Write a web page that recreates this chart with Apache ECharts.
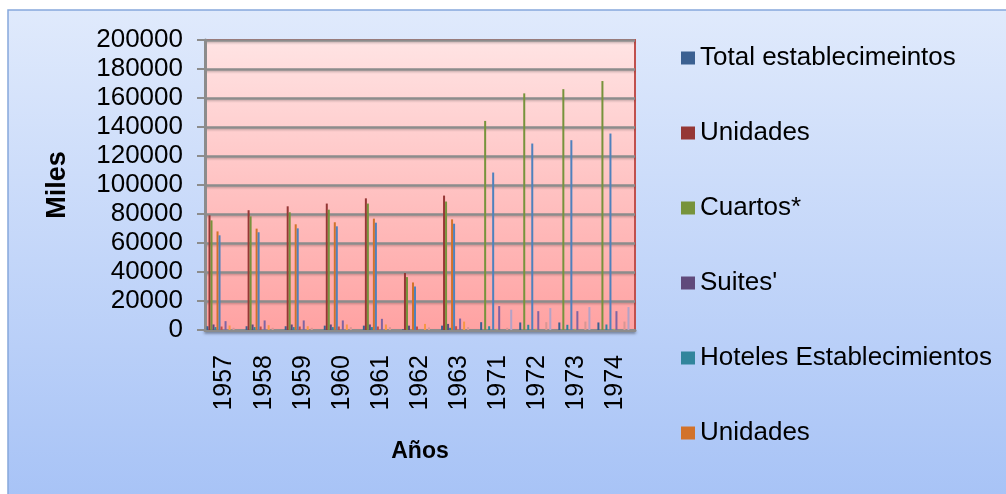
<!DOCTYPE html>
<html>
<head>
<meta charset="utf-8" />
<title></title>
<script src="https://cdn.jsdelivr.net/npm/echarts@6/dist/echarts.min.js"></script>
<style>
  html, body { margin: 0; padding: 0; background: #fff; }
  #chart { width: 1006px; height: 494px; }
</style>
</head>
<body>
<div id="chart"></div>
<script>
var years = ['1957', '1958', '1959', '1960', '1961', '1962', '1963', '1971', '1972', '1973', '1974'];
var yTicks = [0, 20000, 40000, 60000, 80000, 100000, 120000, 140000, 160000, 180000, 200000];

// only the first six series appear in the legend (as in the original, truncated)
var legendNames = ['Total establecimeintos', 'Unidades', 'Cuartos*', "Suites'", 'Hoteles Establecimientos', 'Unidades '];
var otherNames = ['Serie7', 'Serie8', 'Serie9', 'Serie10', 'Serie11', 'Serie12', 'Serie13', 'Serie14', 'Serie15', 'Serie16', 'Serie17', 'Serie18'];

var s1 = [2600, 2600, 2600, 3000, 3000, 500, 3000, 5400, 5200, 5200, 5200];
var s2 = [79100, 82600, 85300, 87200, 90800, 39300, 92700, 0, 0, 0, 0];
var s3 = [75600, 78400, 81200, 83000, 87200, 36500, 88600, 144200, 163200, 166100, 171700];
var s4 = [3800, 3800, 3800, 3800, 3800, 3000, 4200, 0, 0, 0, 0];
var s5 = [2000, 2000, 2000, 2000, 2000, 0, 1500, 2600, 3600, 3600, 3800];
var s6 = [68000, 69900, 72900, 74300, 76800, 32800, 76300, 0, 0, 0, 0];
var s7 = [65300, 67400, 70100, 71500, 74000, 30000, 73300, 108600, 128600, 130900, 135500];
var s8 = [2400, 2400, 2400, 2400, 2400, 2400, 2600, 0, 0, 0, 0];
var s9 = [0, 0, 0, 0, 0, 0, 0, 800, 800, 800, 800];
var s10 = [6100, 6600, 6600, 6600, 7700, 0, 7900, 16500, 13000, 13000, 13000];
var s11 = [0, 0, 0, 0, 0, 0, 0, 0, 0, 0, 0];
var s12 = [3100, 3300, 2600, 3800, 3800, 4200, 5800, 0, 0, 0, 0];
var s13 = [0, 0, 0, 0, 0, 0, 0, 0, 0, 0, 0];
var s14 = [1500, 1500, 1500, 2000, 2000, 1800, 2000, 1500, 5400, 5800, 5800];
var s15 = [0, 0, 0, 0, 0, 0, 0, 0, 0, 0, 0];
var s16 = [0, 0, 0, 0, 0, 0, 0, 14000, 15100, 15800, 15800];
var s17 = [0, 0, 0, 0, 0, 0, 0, 0, 0, 0, 0];
var s18 = [0, 0, 0, 0, 0, 0, 0, 0, 0, 0, 0];

var allData = [s1, s2, s3, s4, s5, s6, s7, s8, s9, s10, s11, s12, s13, s14, s15, s16, s17, s18];
var allNames = legendNames.concat(otherNames);
var colors = ['#3B6091', '#953735', '#77933C', '#604A7B', '#31859C', '#D2722A',
              '#4F81BD', '#C0504D', '#9BBB59', '#8064A2', '#4BACC6', '#F79646',
              '#95B3D7', '#D99694', '#C3D69B', '#B3A2C7', '#93CDDD', '#FAC090'];

var font = "'Liberation Sans', Arial, sans-serif";

var series = [];
for (var i = 0; i < allData.length; i++) {
  series.push({
    name: allNames[i],
    type: 'bar',
    data: allData[i],
    barGap: '0%',
    barCategoryGap: '7.7%',
    itemStyle: { color: colors[i] }
  });
}

var myChart = echarts.init(document.getElementById('chart'));
var option = {
  backgroundColor: '#ffffff',
  animation: false,
  color: colors,
  graphic: [{
    type: 'rect',
    z: -100,
    silent: true,
    shape: { x: 8, y: 10, width: 1010, height: 500 },
    style: {
      fill: new echarts.graphic.LinearGradient(0, 0, 0, 1, [
        { offset: 0, color: '#e0eafc' },
        { offset: 1, color: '#a6c2f6' }
      ]),
      stroke: '#86a8dc',
      lineWidth: 1.5
    }
  }],
  legend: {
    orient: 'vertical',
    left: 676,
    top: 38,
    data: legendNames,
    icon: 'rect',
    itemWidth: 14,
    itemHeight: 13,
    itemGap: 45,
    formatter: function (name) { return name.trim(); },
    textStyle: { fontFamily: font, fontSize: 26, color: '#000', lineHeight: 30 }
  },
  grid: {
    left: 205,
    top: 40,
    width: 430,
    height: 290,
    show: true,
    borderColor: '#c0504d',
    borderWidth: 2,
    backgroundColor: new echarts.graphic.LinearGradient(0, 0, 0, 1, [
      { offset: 0, color: '#ffe4e4' },
      { offset: 1, color: '#ffa2a2' }
    ])
  },
  xAxis: {
    type: 'category',
    data: years,
    name: 'Años',
    nameLocation: 'middle',
    nameGap: 110,
    nameTextStyle: { fontFamily: font, fontSize: 23, fontWeight: 'bold', color: '#000' },
    axisLine: { lineStyle: { color: '#8c8c8c', width: 3, shadowColor: 'rgba(0,0,0,0.25)', shadowBlur: 3, shadowOffsetY: 2 } },
    axisTick: { show: false },
    axisLabel: { rotate: 90, margin: 25, fontFamily: font, fontSize: 25, color: '#000' }
  },
  yAxis: {
    type: 'value',
    min: 0,
    max: 200000,
    interval: 20000,
    name: 'Miles',
    nameLocation: 'middle',
    nameRotate: 90,
    nameGap: 134,
    nameTextStyle: { fontFamily: font, fontSize: 27, fontWeight: 'bold', color: '#000' },
    axisLine: { show: true, lineStyle: { color: '#8c8c8c', width: 3 } },
    axisTick: { show: true, length: 8, lineStyle: { color: '#8c8c8c', width: 2 } },
    axisLabel: {
      margin: 22, fontFamily: font, fontSize: 26, color: '#000',
      formatter: function (v) { return yTicks.indexOf(v) >= 0 ? String(v) : ''; }
    },
    splitLine: { lineStyle: { color: '#8c8c8c', width: 2.5, shadowColor: 'rgba(0,0,0,0.2)', shadowBlur: 2, shadowOffsetY: 1.5 } }
  },
  series: series
};
myChart.setOption(option);
</script>
</body>
</html>
